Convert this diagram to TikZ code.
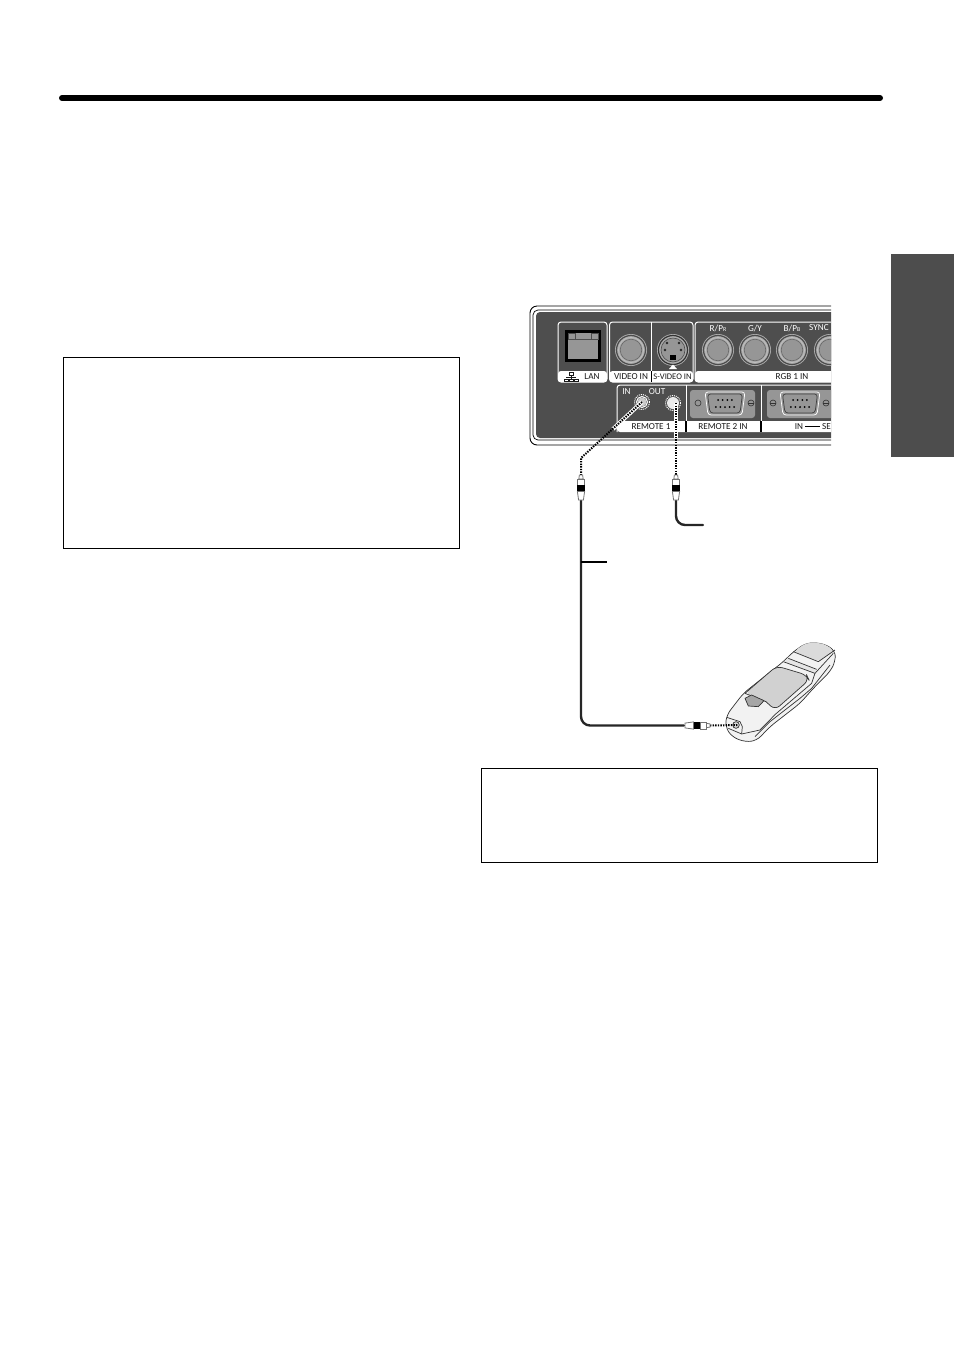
\documentclass[tikz,border=0pt]{standalone}
\usepackage{fontspec}
\setsansfont{Carlito}
\definecolor{cpanel}{RGB}{78,78,78}
\definecolor{ctab}{RGB}{77,77,77}
\definecolor{cmetal}{RGB}{150,150,150}
\definecolor{clabel}{RGB}{25,25,25}
\tikzset{pagepx/.style={x=1pt,y=-1pt,font=\sffamily\fontsize{9.2}{10}\selectfont}}
\tikzset{notebox/.style={draw=black,line width=0.7pt},
         strip/.style={fill=white,rounded corners=3pt},
         portlabel/.style={clabel,inner sep=0pt},
         headlabel/.style={white,inner sep=0pt},
         cablesolid/.style={black!85,line width=2.4pt,line cap=round},
         cabledot/.style={black,line width=2pt,dash pattern=on 1.4pt off 1.2pt},
         cablehalo/.style={white,line width=4pt},
         bodyline/.style={black!80,line width=0.7pt,line join=round}}

\begin{document}
\begin{tikzpicture}[pagepx]
    \useasboundingbox (0,0) rectangle (954,1350);
    % page furniture
    \draw[black,line width=6pt,line cap=round] (62,98) -- (880,98);
    \fill[ctab] (891,254) rectangle (954,457);
    \draw[notebox] (63.5,357.5) rectangle (459.5,548.5);
    \draw[notebox] (481.5,768.5) rectangle (877.5,862.5);
    % back panel, cut off on the right
    \begin{scope}
    \clip (520,300) rectangle (831,452);
    \draw[black,line width=0.9pt,rounded corners=7pt] (860,306) -- (530,306) -- (530,445) -- (860,445);
    \draw[black,line width=0.7pt,rounded corners=5pt] (860,310) -- (533,310) -- (533,440) -- (860,440);
    \fill[cpanel,rounded corners=4pt] (860,312) -- (536,312) -- (536,438) -- (860,438) -- cycle;
    % label blocks
    \draw[white,line width=1pt,rounded corners=3pt] (558,322) rectangle (607,382);
    \fill[strip] (558,371) rectangle (607,382);
    \draw[white,line width=1pt,rounded corners=3pt] (609.5,322) rectangle (693,382);
    \fill[strip] (609.5,371) rectangle (693,382);
    \draw[white,line width=1pt] (651.5,322) -- (651.5,371);
    \fill[black] (650.6,371) rectangle (652.4,382);
    \draw[white,line width=1pt,rounded corners=3pt] (695,322) rectangle (860,382);
    \fill[strip] (695,371) rectangle (860,382);
    \draw[white,line width=1pt,rounded corners=3pt] (617,432) -- (617,385) -- (860,385);
    \fill[strip] (617,421) rectangle (860,432);
    \foreach \x in {686,761} {
      \draw[white,line width=1pt] (\x,385) -- (\x,421);
      \fill[black] (\x-0.9,421) rectangle (\x+0.9,432);
    }
    % lan socket
    \fill[black] (565,330) rectangle (601,362);
    \fill[cmetal] (568,333) rectangle (598,359);
    \draw[black!70,line width=0.7pt] (568,333) rectangle (575,339) (591,333) rectangle (598,339);
    \draw[black!70,line width=0.6pt] (575,339) -- (591,339);
    \foreach \x in {566,571,576} \draw[clabel,line width=0.6pt] (\x-2,379) rectangle (\x+2,381);
    \draw[clabel,line width=0.6pt] (569,372.5) rectangle (573,375.5) (571,375.5) -- (571,379) (566,377.2) -- (576,377.2);
    % round sockets
    \foreach \x in {631,718,755,792,830} {
      \fill[cmetal!80] (\x,350) circle (16);
      \draw[black!70,line width=1.2pt] (\x,350) circle (14.5);
      \draw[white!75!black,line width=0.7pt] (\x,350) circle (12.6);
      \filldraw[fill=cmetal,draw=black!60,line width=0.6pt] (\x,350) circle (10.8);
    }
    \fill[cmetal!80] (673,350) circle (16);
    \draw[black!80,line width=1.2pt] (673,350) circle (14.5);
    \filldraw[fill=cmetal,draw=black!70,line width=0.6pt] (673,350) circle (12);
    \fill[black] (670,355) rectangle (676,359.5);
    \foreach \x/\y in {667/343,679/343,665/350,681/350} \fill[black!85] (\x,\y) circle (1.4);
    \fill[white] (669,369) -- (673,364.5) -- (677,369) -- cycle;
    % d-sub blocks
    \fill[cmetal,rounded corners=3pt] (690,390) rectangle (755,418);
    \fill[cmetal,rounded corners=3pt] (767,390) rectangle (860,418);
    \foreach \c in {725,800} {
      \draw[white,line width=0.7pt,rounded corners=3pt] (\c-20,392) -- (\c+20,392) -- (\c+17,415) -- (\c-17,415) -- cycle;
      \draw[black!75,line width=0.7pt,rounded corners=3pt] (\c-17.5,394) -- (\c+17.5,394) -- (\c+15,413) -- (\c-15,413) -- cycle;
      \foreach \k in {-1.5,-0.5,0.5,1.5} \fill[black] (\c+\k*4.6,400) circle (1);
      \foreach \k in {-2,...,2} \fill[black] (\c+\k*4.6,407) circle (1);
      \draw[black!80,line width=0.6pt] (\c-27,403) circle (3) (\c+26,403) circle (3);
      \draw[black!80,line width=0.6pt] (\c+23,403) -- (\c+29,403);
    }
    \draw[black!80,line width=0.6pt] (770,403) -- (776,403);
    % remote jacks
    \coordinate (jackin) at (642,402);
    \coordinate (jackout) at (673,403);
    \fill[black!70] (jackin) circle (8.5);
    \draw[white,line width=1pt,densely dotted] (jackin) circle (7.5);
    \draw[white,line width=1pt] (jackin) circle (5.5);
    \fill[cmetal!50] (jackin) circle (4.6);
    \fill[black!70] (jackout) circle (8.5);
    \draw[white,densely dotted,line width=1pt] (jackout) circle (7.5);
    \fill[white!92!black] (jackout) circle (6);
    % panel texts
    \node[portlabel] (lblRj) at (592,377) {LAN};
    \node[portlabel] (lblVideo) at (631,377) {VIDEO IN};
    \node[portlabel,font=\sffamily\fontsize{8.6}{10}\selectfont] (lblSvideo) at (672.5,377) {S-VIDEO IN};
    \node[portlabel] (lblRgb) at (792,377) {RGB 1 IN};
    \node[portlabel] (lblRemoteOne) at (651,426.5) {REMOTE 1};
    \node[portlabel] (lblRemoteTwo) at (723,426.5) {REMOTE 2 IN};
    \node[portlabel] (lblSerialIn) at (799,426.5) {IN};
    \draw[black,line width=0.9pt] (805,426.5) -- (820,426.5);
    \node[portlabel,anchor=west] (lblSerial) at (822,426.5) {SE};
    \node[headlabel] (lblPr) at (718,328) {R/P{\fontsize{6}{6}\selectfont R}};
    \node[headlabel] (lblGy) at (755,328) {G/Y};
    \node[headlabel] (lblPb) at (792,328) {B/P{\fontsize{6}{6}\selectfont B}};
    \node[headlabel,anchor=west] (lblSync) at (809,328) {SYNC};
    \node[headlabel] (lblIn) at (626.5,392) {IN};
    \node[headlabel] (lblOut) at (657,392) {OUT};
    \end{scope}
    % remote control body
    \begin{scope}[shift={(660,630)},x=0.3333pt,y=-0.3333pt]
    \filldraw[bodyline,fill=black!5,rounded corners=6pt] (196,290) -- (200,255) -- (250,190) -- (370,95) -- (400,65) -- (440,38) -- (490,40) -- (526,62) -- (526,95) -- (510,125) -- (460,175) -- (420,220) -- (330,290) -- (290,332) -- (255,336) -- (215,320) -- cycle;
    \fill[black!14,rounded corners=5pt] (400,65) -- (440,38) -- (490,40) -- (524,62) -- (475,95) -- cycle;
    \fill[black!10] (385,85) -- (470,118) -- (465,130) -- (370,95) -- cycle;
    \fill[black!18,rounded corners=6pt] (255,190) -- (350,108) -- (440,135) -- (447,150) -- (345,240) -- (318,215) -- cycle;
    \draw[bodyline,rounded corners=6pt] (255,190) -- (350,108) -- (440,135) -- (447,150) -- (345,240) -- (318,215);
    \draw[bodyline] (255,190) -- (318,215);
    \filldraw[bodyline,fill=black!35] (255,205) -- (275,195) -- (312,212) -- (295,230) -- (265,228) -- cycle;
    \draw[bodyline] (370,95) -- (465,130) -- (520,70);
    \draw[bodyline] (385,85) -- (470,118);
    \draw[bodyline] (400,65) -- (475,95) -- (525,60);
    \draw[bodyline] (465,130) -- (455,160) -- (347,252) -- (300,300) -- (245,312) -- (205,295);
    \draw[bodyline] (510,105) -- (455,175) -- (420,205) -- (330,275) -- (285,320);
    \draw[bodyline] (200,262) -- (240,275) -- (247,290) -- (245,312);
    \filldraw[bodyline,fill=black!15] (228,285) circle (10);
    \coordinate (jackhand) at (234,285);
    \end{scope}
    % connection points and cables
    \coordinate (plugA) at (581,475);
    \coordinate (plugAend) at (581,500);
    \coordinate (plugB) at (676,475);
    \coordinate (plugBend) at (676,500);
    \coordinate (plugC) at (710,725.5);
    \coordinate (plugCend) at (684,725.5);
    \coordinate (bendA) at (581,458);
    \coordinate (stubB) at (703,525);
    \coordinate (tagcable) at (581,562);
    \coordinate (tagend) at (607,562);
    \draw[cablehalo] (jackin) -- (613,429);
    \draw[cablehalo] (676,403) -- (676,438);
    \draw[cabledot] (jackin) -- (bendA) -- (plugA);
    \draw[cabledot] (676,403) -- (plugB);
    \draw[cabledot] (plugC) -- (jackhand);
    \draw[cablesolid,rounded corners=9pt] (plugAend) -- (581,725.5) -- (plugCend);
    \draw[cablesolid,rounded corners=9pt] (plugBend) -- (676,525) -- (stubB);
    \draw[black,line width=1.6pt] (tagcable) -- (tagend);
    % plugs
    \foreach \p/\a in {plugA/0,plugB/0,plugC/-90} {
      \begin{scope}[shift={(\p)},rotate=\a]
      \filldraw[fill=white,draw=black!55,line width=0.8pt] (-1.6,0) -- (1.6,0) -- (2.2,4) -- (-2.2,4) -- cycle;
      \filldraw[fill=white,draw=black!55,line width=0.8pt] (-3.6,4) rectangle (3.6,10);
      \fill[black] (-3.6,10) rectangle (3.6,16.5);
      \filldraw[fill=white,draw=black!55,line width=0.8pt] (-3.6,16.5) -- (3.6,16.5) -- (2.4,25) -- (-2.4,25) -- cycle;
      \end{scope}
    }
  \end{tikzpicture}
\end{document}
